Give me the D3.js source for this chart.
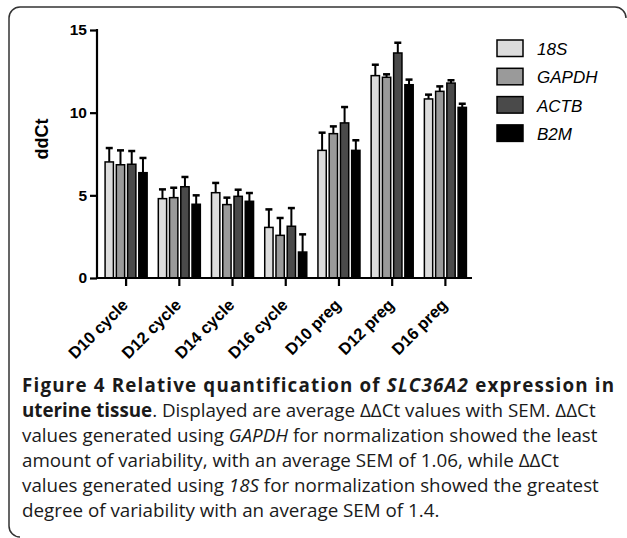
<!DOCTYPE html>
<html><head><meta charset="utf-8">
<script src="https://cdn.jsdelivr.net/npm/d3@7"></script>
<style>body{margin:0;background:#fff}svg{display:block}</style>
</head><body>
<script>
const categories = ["D10 cycle","D12 cycle","D14 cycle","D16 cycle","D10 preg","D12 preg","D16 preg"];
const seriesNames = ["18S","GAPDH","ACTB","B2M"];
const seriesColors = ["#dcdcdc","#9a9a9a","#4a4a4a","#000000"];
const mean18S  = [7.02,4.80,5.16,3.06,7.72,12.24,10.83];
const meanGAPDH= [6.85,4.86,4.44,2.58,8.73,12.14,11.29];
const meanACTB = [6.88,5.52,4.94,3.13,9.38,13.61,11.79];
const meanB2M  = [6.37,4.46,4.64,1.57,7.72,11.69,10.32];
const sem18S   = [0.84,0.56,0.59,1.09,1.07,0.66,0.26];
const semGAPDH = [0.87,0.60,0.42,1.05,0.44,0.18,0.30];
const semACTB  = [0.80,0.59,0.40,1.10,0.96,0.62,0.17];
const semB2M   = [0.89,0.54,0.50,1.07,0.61,0.31,0.22];
const yTicks = [0,5,10,15];
const means = [mean18S,meanGAPDH,meanACTB,meanB2M];
const sems = [sem18S,semGAPDH,semACTB,semB2M];

const W=627,H=538;
const svg=d3.select("body").append("svg").attr("width",W).attr("height",H);

// frame
svg.append("path")
  .attr("d","M626,18 A11,11 0 0 0 615,7 L20,7 A11,11 0 0 0 9,18 L9,526 A11,11 0 0 0 20,537")
  .attr("fill","none").attr("stroke","#333").attr("stroke-width",1.5);

const x=d3.scaleBand().domain(categories).range([99.5,472]).paddingInner(0.21).paddingOuter(0.105);
const xi=d3.scaleBand().domain(seriesNames).range([0,x.bandwidth()]).paddingInner(0.26);
const y=d3.scaleLinear().domain([0,15]).range([278,30]);

const rows=[];
categories.forEach((c,ci)=>seriesNames.forEach((s,si)=>rows.push({c,s,si,v:means[si][ci],e:sems[si][ci]})));

const g=svg.append("g");
const cx=d=>x(d.c)+xi(d.s)+xi.bandwidth()/2;
const eb=g.selectAll(".eb").data(rows).join("g");
eb.append("line")
  .attr("x1",cx).attr("x2",cx)
  .attr("y1",d=>y(d.v)).attr("y2",d=>y(d.v+d.e)).attr("stroke","#000").attr("stroke-width",2);
eb.append("line")
  .attr("x1",d=>cx(d)-3.5).attr("x2",d=>cx(d)+3.5)
  .attr("y1",d=>y(d.v+d.e)).attr("y2",d=>y(d.v+d.e)).attr("stroke","#000").attr("stroke-width",2.5);
g.selectAll(".bar").data(rows).join("rect")
  .attr("x",d=>x(d.c)+xi(d.s)).attr("width",xi.bandwidth())
  .attr("y",d=>y(d.v)).attr("height",d=>y(0)-y(d.v))
  .attr("fill",d=>seriesColors[d.si]).attr("stroke","#000").attr("stroke-width",1.5);

// y axis
const ya=svg.append("g").attr("transform","translate(97,0)")
  .call(d3.axisLeft(y).tickValues(yTicks).tickSize(7).tickSizeOuter(0).tickPadding(3));
ya.select(".domain").attr("stroke-width",2.2).attr("d","M0,"+(y(15)-1)+"V"+(y(0)+1));
ya.selectAll(".tick line").attr("stroke-width",2.2);
ya.selectAll("text").attr("font-family","Liberation Sans, Arial, sans-serif").attr("font-weight","bold").attr("font-size",15.5).attr("fill","#000");

// x axis
const xa=svg.append("g").attr("transform","translate(0,278)")
  .call(d3.axisBottom(x).tickSize(8).tickSizeOuter(0));
xa.select(".domain").attr("stroke-width",2.2).attr("d","M96,0H472");
xa.selectAll(".tick line").attr("stroke-width",2.2);
xa.selectAll("text").attr("font-family","Liberation Sans, Arial, sans-serif").attr("font-weight","bold").attr("font-size",16.5).attr("fill","#000")
  .attr("text-anchor","end").attr("dy",0).attr("y",0)
  .attr("transform","translate(3,28) rotate(-45)");

// y label
svg.append("text").attr("transform","translate(48,139) rotate(-90)").attr("text-anchor","middle")
  .attr("font-family","Liberation Sans, Arial, sans-serif").attr("font-weight","bold").attr("font-size",18).text("ddCt");

// legend
const lg=svg.append("g").selectAll("g").data(seriesNames).join("g")
  .attr("transform",(d,i)=>`translate(497,${40+i*28.3})`);
lg.append("rect").attr("width",26).attr("height",16.5).attr("fill",(d,i)=>seriesColors[i]).attr("stroke","#000").attr("stroke-width",1.5);
lg.append("text").attr("x",40).attr("y",15).attr("font-family","Liberation Sans, Arial, sans-serif").attr("font-style","italic").attr("font-size",17).text(d=>d);

// caption
const cap=svg.append("g").attr("font-family","Open Sans, sans-serif").attr("font-size",18.8).attr("fill","#1a1a1a");
const l1=cap.append("text").attr("x",22).attr("y",392).attr("font-weight","bold");
l1.append("tspan").text("Figure 4 Relative quantification of ");
l1.append("tspan").attr("font-style","italic").text("SLC36A2");
l1.append("tspan").text(" expression in");
const w1=l1.node().getComputedTextLength();
const n1=l1.text().length;
l1.attr("letter-spacing",Math.max(0,(592-w1)/(n1-1)));
const l2=cap.append("text").attr("x",22).attr("y",417);
l2.append("tspan").attr("font-weight","bold").text("uterine tissue");
l2.append("tspan").text(". Displayed are average ΔΔCt values with SEM. ΔΔCt");
const l3=cap.append("text").attr("x",22).attr("y",442);
l3.append("tspan").text("values generated using ");
l3.append("tspan").attr("font-style","italic").text("GAPDH");
l3.append("tspan").text(" for normalization showed the least");
cap.append("text").attr("x",22).attr("y",467).text("amount of variability, with an average SEM of 1.06, while ΔΔCt");
const l5=cap.append("text").attr("x",22).attr("y",492);
l5.append("tspan").text("values generated using ");
l5.append("tspan").attr("font-style","italic").text("18S");
l5.append("tspan").text(" for normalization showed the greatest");
cap.append("text").attr("x",22).attr("y",517).text("degree of variability with an average SEM of 1.4.");
</script>
</body></html>
